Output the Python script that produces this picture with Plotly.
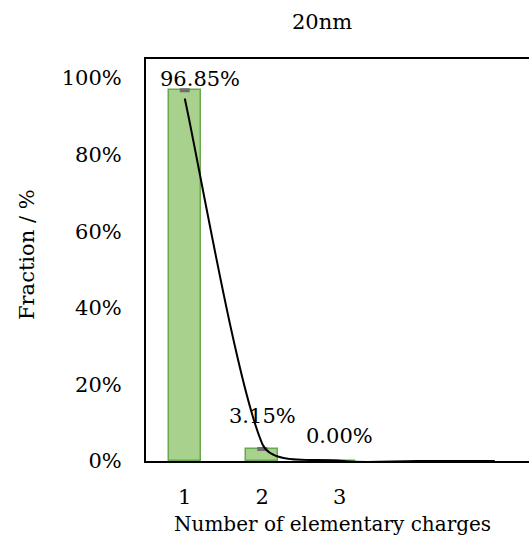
import math
import plotly.graph_objects as go

# Charge distribution for 20 nm particles
charges = [1, 2, 3]
fractions = [96.85, 3.15, 0.00]          # % of particles per charge state
fraction_err = [0.2, 0.2, 0.0]           # uncertainty (%)

# Smoothed reference curve
curve_x = [1, 2, 3, 4, 5]
curve_y = [94.7, 4.5, 0.05, 0.0, 0.0]

y_ticks = [0, 20, 40, 60, 80, 100]

FONT = "DejaVu Serif"
FS = 21
W, H = 529, 550
L, T, B, R = 146, 59, 89, 0
plot_w = W - L - R
plot_h = H - T - B
X_RANGE = [0.5, 0.5 + plot_w / 77.5]
Y_RANGE = [0, 105]


def px_to_paper_x(px):
    return (px - L) / plot_w


def px_to_paper_y(py):
    return 1 - (py - T) / plot_h


def smooth_path(xs, ys):
    """Cubic Bezier path through the points, tangents weighted by the
    on-screen length of neighbouring segments (spreadsheet-style smoothing)."""
    sx = plot_w / (X_RANGE[1] - X_RANGE[0])
    sy = plot_h / (Y_RANGE[1] - Y_RANGE[0])
    pts = list(zip(xs, ys))
    n = len(pts)

    def dist(a, b):
        return math.hypot((b[0] - a[0]) * sx, (b[1] - a[1]) * sy)

    def factor(da, db):
        return min(1 / 6, db / (da + db) / 3) if da + db else 0

    d = f"M {pts[0][0]},{pts[0][1]}"
    for i in range(n - 1):
        p0 = pts[max(i - 1, 0)]
        p1 = pts[i]
        p2 = pts[i + 1]
        p3 = pts[min(i + 2, n - 1)]
        d01, d12, d23 = dist(p0, p1), dist(p1, p2), dist(p2, p3)
        f1 = factor(d01, d12)
        f2 = factor(d23, d12)
        c1 = (p1[0] + (p2[0] - p0[0]) * f1, p1[1] + (p2[1] - p0[1]) * f1)
        c2 = (p2[0] - (p3[0] - p1[0]) * f2, p2[1] - (p3[1] - p1[1]) * f2)
        d += f" C {c1[0]},{c1[1]} {c2[0]},{c2[1]} {p2[0]},{p2[1]}"
    return d


fig = go.Figure()

fig.add_trace(go.Bar(
    x=charges,
    y=fractions,
    width=0.41,
    marker=dict(color="#a9d18e", line=dict(color="#6aa84f", width=1.5)),
    error_y=dict(type="data", array=fraction_err, visible=True,
                 color="#6e6e6e", thickness=2.5, width=5),
    showlegend=False,
    hoverinfo="skip",
))

fig.add_shape(
    type="path", xref="x", yref="y",
    path=smooth_path(curve_x, curve_y),
    line=dict(color="black", width=2),
    layer="above",
)

# Value labels above each bar
label_shift = [(15, 11), (0, 33), (0, 25)]
for c, v, (dx, dy) in zip(charges, fractions, label_shift):
    fig.add_annotation(
        x=c, y=v, text=f"{v:.2f}%", showarrow=False,
        xanchor="center", yanchor="middle", xshift=dx, yshift=dy,
        font=dict(family=FONT, size=FS, color="black"),
    )

# Chart title and axis titles
fig.add_annotation(
    x=px_to_paper_x(322), y=px_to_paper_y(22), xref="paper", yref="paper",
    text="20nm", showarrow=False, xanchor="center", yanchor="middle",
    font=dict(family=FONT, size=FS, color="black"),
)
fig.add_annotation(
    x=px_to_paper_x(332), y=px_to_paper_y(524), xref="paper", yref="paper",
    text="Number of elementary charges", showarrow=False,
    xanchor="center", yanchor="middle",
    font=dict(family=FONT, size=20, color="black"),
)
fig.add_annotation(
    x=px_to_paper_x(27), y=px_to_paper_y(255), xref="paper", yref="paper",
    text="Fraction / %", showarrow=False, textangle=-90,
    xanchor="center", yanchor="middle",
    font=dict(family=FONT, size=FS, color="black"),
)

fig.update_layout(
    width=W, height=H,
    margin=dict(l=L, r=R, t=T, b=B, pad=0),
    paper_bgcolor="white",
    plot_bgcolor="white",
    font=dict(family=FONT, size=FS, color="black"),
    bargap=0,
)

fig.update_xaxes(
    range=X_RANGE,
    tickmode="array", tickvals=charges, ticktext=[str(c) for c in charges],
    showgrid=False, zeroline=False,
    showline=True, linecolor="black", linewidth=2, mirror=True,
    ticks="", ticklabelstandoff=16,
    tickfont=dict(family=FONT, size=FS, color="black"),
)
fig.update_yaxes(
    range=Y_RANGE,
    tickmode="array", tickvals=y_ticks, ticktext=[f"{t}%" for t in y_ticks],
    showgrid=False, zeroline=False,
    showline=True, linecolor="black", linewidth=2,
    ticks="", ticklabelstandoff=18,
    tickfont=dict(family=FONT, size=FS, color="black"),
)

fig.write_html("out.html")
